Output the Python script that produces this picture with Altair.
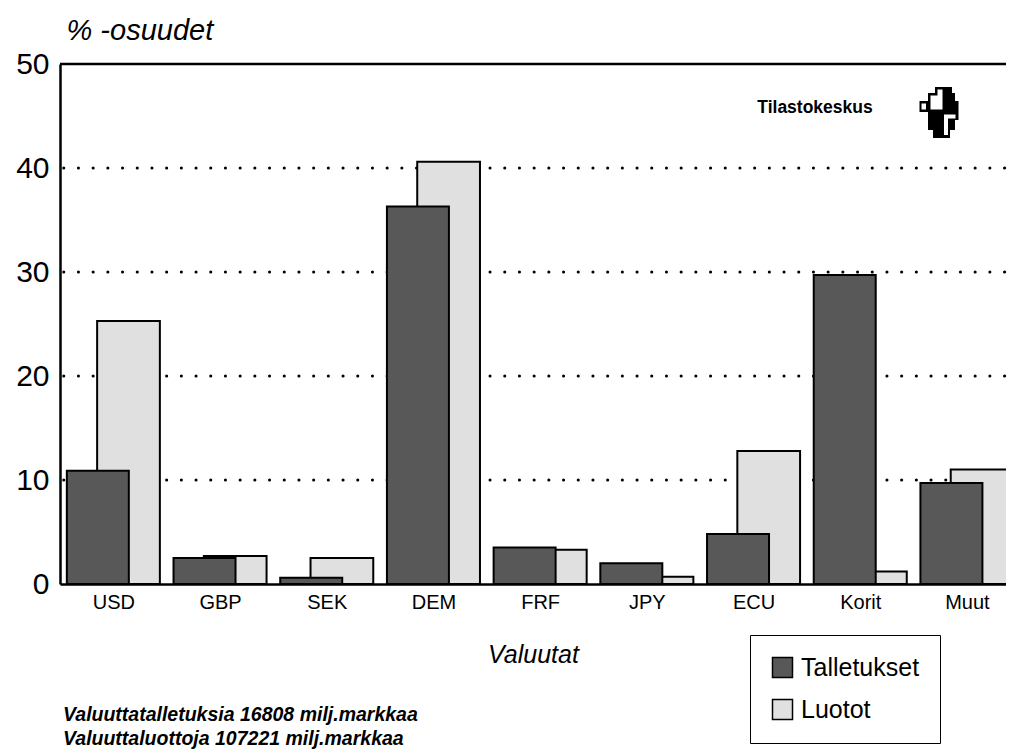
import altair as alt
import pandas as pd

# ---- data ----
categories = ["USD", "GBP", "SEK", "DEM", "FRF", "JPY", "ECU", "Korit", "Muut"]
talletukset = [10.9, 2.5, 0.6, 36.3, 3.5, 2.0, 4.8, 29.7, 9.7]
luotot = [25.3, 2.7, 2.5, 40.6, 3.3, 0.7, 12.8, 1.2, 11.0]
series = ["Talletukset", "Luotot"]
y_ticks = [0, 10, 20, 30, 40, 50]
grid_values = [10, 20, 30, 40]
y_title = "% -osuudet"
x_title = "Valuutat"
brand = "Tilastokeskus"
note_lines = ["Valuuttatalletuksia 16808 milj.markkaa",
              "Valuuttaluottoja 107221 milj.markkaa"]

rows = []
for i, c in enumerate(categories):
    rows.append({"Valuutta": c, "idx": i, "Sarja": series[0], "Osuus": talletukset[i]})
    rows.append({"Valuutta": c, "idx": i, "Sarja": series[1], "Osuus": luotot[i]})
df = pd.DataFrame(rows)

# ---- layout / style ----
FONT = "Liberation Sans"
W, H = 946, 520
X_DOMAIN = [-0.5, 8.366]
DARK_SPAN = (-0.436, 0.145)   # bar extent relative to category index
LIGHT_SPAN = (-0.152, 0.436)

x_scale = alt.Scale(domain=X_DOMAIN, nice=False, zero=False)
y_scale = alt.Scale(domain=[0, 50], nice=False)
color_scale = alt.Scale(domain=series, range=["#585858", "#e0e0e0"])

label_expr = "[" + ",".join("'%s'" % c for c in categories) + "][datum.value]"

x_axis = alt.Axis(values=list(range(len(categories))), labelExpr=label_expr,
                  title=x_title, ticks=False, grid=False, labelOverlap=False,
                  labelFlush=False, domainColor="black", domainWidth=2.5,
                  labelFontSize=20, labelPadding=8, labelColor="black", labelFont=FONT,
                  titleFontSize=25, titleFontStyle="italic", titleFontWeight="normal",
                  titlePadding=30, titleColor="black", titleFont=FONT)
y_axis = alt.Axis(values=y_ticks, title=y_title, titleAngle=0, titleX=6, titleY=-34,
                  titleAlign="left", titleBaseline="middle", titleFontSize=29,
                  titleFontStyle="italic", titleFontWeight="normal", titleColor="black",
                  titleFont=FONT, ticks=False, labelFontSize=30, labelPadding=11,
                  labelColor="black", labelFont=FONT, format="d", grid=False,
                  domainColor="black", domainWidth=2.5)
legend = alt.Legend(title=None, orient="none", legendX=690, legendY=571,
                    direction="vertical", symbolType="square", symbolSize=400,
                    symbolStrokeColor="black", symbolStrokeWidth=1.5,
                    labelFontSize=25, labelColor="black", labelFont=FONT, labelOffset=6,
                    rowPadding=15, padding=20, strokeColor="black", fillColor="white")


def bars(name, span):
    return alt.Chart(df).transform_filter(alt.datum.Sarja == name).transform_calculate(
        x0="datum.idx + (%f)" % span[0], x1="datum.idx + (%f)" % span[1]
    ).mark_bar(stroke="black", strokeWidth=2, clip=True).encode(
        x=alt.X("x0:Q", scale=x_scale, axis=x_axis),
        x2="x1:Q",
        y=alt.Y("Osuus:Q", scale=y_scale, axis=y_axis),
        y2=alt.datum(0),
        color=alt.Color("Sarja:N", scale=color_scale, legend=legend),
    )


one = pd.DataFrame({"k": [0]})

grid = alt.Chart(pd.DataFrame({"g": grid_values})).mark_rule(
    color="black", strokeWidth=3, strokeDash=[0.1, 14.6], strokeCap="round",
    strokeDashOffset=-1.4).encode(y=alt.Y("g:Q", scale=y_scale, axis=y_axis))

top_rule = alt.Chart(one).mark_rule(color="black", strokeWidth=2.5).encode(
    y=alt.datum(50))

brand_text = alt.Chart(one).mark_text(
    text=brand, font=FONT, fontSize=17.5, fontWeight="bold", color="black",
    align="center", baseline="middle").encode(x=alt.value(755), y=alt.value(44))

notes = alt.Chart(one).mark_text(
    text=note_lines, font=FONT, fontSize=19.5, fontStyle="italic", fontWeight="bold",
    color="black", align="left", baseline="alphabetic", lineHeight=24
).encode(x=alt.value(3), y=alt.value(657))


def logo_path(pts, s=26.0):
    return "M " + " L ".join("%.3f %.3f" % (px / s, py / s) for px, py in pts) + " Z"


outer = [(-4, -25), (13, -25), (13, -19), (16, -19), (16, -11), (19.5, -11), (19.5, 8),
         (16, 8), (16, 18), (11, 18), (11, 26), (-6, 26), (-6, 18), (-11, 18), (-11, 0),
         (-19.5, 0), (-19.5, -11), (-11, -11), (-11, -19), (-4, -19)]
inner = [
    [(-1.5, -22.5), (3.5, -22.5), (3.5, -2.5), (-8.5, -2.5), (-8.5, -16.5), (-1.5, -16.5)],
    [(-17.5, -8.5), (-13, -8.5), (-13, -2.5), (-17.5, -2.5)],
    [(5, 2.5), (16.5, 2.5), (16.5, 6.5), (9, 6.5), (9, 23), (5, 23)],
]
logo_black = alt.Chart(one).mark_point(
    shape=logo_path(outer), filled=True, size=2704, color="black", opacity=1
).encode(x=alt.value(879), y=alt.value(48))
logo_white = alt.Chart(one).mark_point(
    shape=" ".join(logo_path(p) for p in inner), filled=True, size=2704,
    color="white", opacity=1
).encode(x=alt.value(879), y=alt.value(48))

chart = alt.layer(
    grid,
    bars(series[1], LIGHT_SPAN),
    bars(series[0], DARK_SPAN),
    top_rule, brand_text, notes, logo_black, logo_white,
).properties(
    width=W, height=H,
    autosize=alt.AutoSizeParams(type="none"),
    padding={"left": 52, "top": 56, "right": 0, "bottom": 169},
    background="white",
).configure_view(strokeOpacity=0).configure(font=FONT)

chart.save("out.html", embed_options={"renderer": "svg", "actions": False})
